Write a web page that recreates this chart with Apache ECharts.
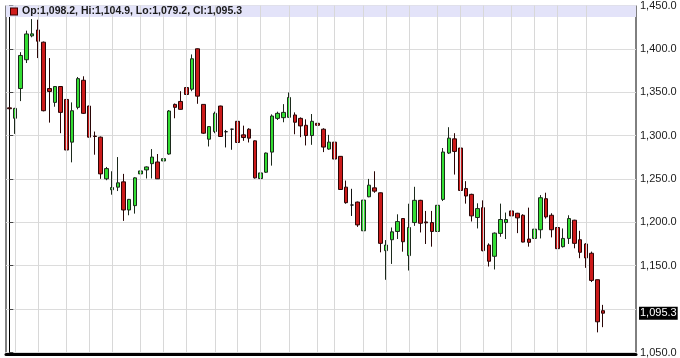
<!DOCTYPE html>
<html>
<head>
<meta charset="utf-8">
<script src="https://cdn.jsdelivr.net/npm/echarts@6/dist/echarts.min.js"></script>
<style>html,body{margin:0;padding:0;background:#fff;}#c{width:680px;height:358px;}</style>
</head>
<body>
<div id="c"></div>
<script>
const open = [1332,1320,1354.3,1387.5,1415,1421.8,1407.7,1354.3,1338.3,1356.6,
1341.7,1292.5,1332.6,1363.8,1334.1,1299.5,1298.2,1250.2,1237.6,1240.6,
1246.7,1214.3,1219.3,1255.9,1260.5,1267.7,1269.6,1270.8,1278.8,1336,
1339.4,1355.4,1353.5,1400.1,1336,1295.9,1304.7,1334.1,1304.5,1307.4,
1316.5,1300.9,1307.4,1294,1250.5,1257.8,1281,1319.9,1320.7,1321.1,
1323.8,1319.9,1311.9,1300.1,1314.2,1307.4,1284.5,1292.5,1276.1,1240.6,
1220,1223.4,1190.3,1229.5,1239.8,1234.1,1167.4,1180,1189.5,1204.4,
1161.7,1199.8,1225.4,1200.5,1199.8,1189.5,1226.5,1279.9,1296.3,1285.7,
1239.1,1232.3,1205.6,1217,1173.9,1160.9,1187.3,1199.8,1213.2,1210.5,
1208.2,1180.8,1181.5,1191.5,1227.3,1208.2,1194.1,1172,1181.5,1202.5,
1180,1175.1,1164.4,1133.9,1098.2];
const close = [1331,1331.4,1392.4,1417.2,1417.3,1408.8,1328.7,1350.9,1356.6,1326.8,
1283.4,1328.7,1365.7,1325.7,1298.2,1299,1255.9,1262,1240.2,1245.6,
1214.3,1226.5,1251.3,1259.3,1263.9,1275.3,1250.2,1273.4,1328.4,1332.6,
1330.3,1347.4,1388.6,1345.5,1302.8,1310.4,1325.7,1299,1304.5,1307.4,
1292.1,1297.8,1297.1,1251.3,1257,1279.9,1322.6,1325.7,1326.8,1344,
1315.4,1311.2,1300.1,1316.5,1311.9,1286.8,1292.5,1273,1237.9,1222.7,
1220,1197.1,1225.7,1242.9,1236,1175.8,1173.9,1189.1,1200.9,1177.7,
1194.1,1225.4,1199,1199.5,1189.5,1219.7,1281.1,1297.1,1281.8,1236.8,
1230.4,1207.5,1215.9,1167.4,1155.2,1187.6,1203.3,1203.3,1207.5,1205.2,
1177.3,1177,1192.2,1228.4,1206.3,1191.5,1169.7,1181.5,1204.4,1175.8,
1165.5,1159,1133.1,1085.4,1095.3];
const low = [1330,1302,1339.8,1383.7,1413.4,1389.4,1328,1315,1333.3,1302.8,
1283,1269.2,1330.3,1325,1298,1278,1250.2,1248.6,1231.9,1236.1,
1201.7,1208.2,1210.1,1224.6,1250.6,1250.6,1250,1261.6,1278,1320,
1330,1340.9,1351.2,1336.7,1302,1287.5,1302.8,1298.5,1286.4,1283.7,
1290.6,1294,1292.1,1250.5,1247.5,1257,1265.4,1318,1315.4,1321,
1301.6,1298.2,1288.7,1289.4,1300,1281,1283.7,1269.2,1237.5,1221.5,
1207.4,1194.8,1189.5,1229,1234.1,1165.5,1133.8,1152.1,1180.8,1166.2,
1144.5,1196,1188.4,1175.1,1172,1189,1224.6,1278.8,1255.1,1231.5,
1221.6,1201,1193,1166.6,1149.1,1145.7,1183.4,1180.8,1194.9,1187.6,
1177,1172,1181,1181.5,1204.4,1182.7,1164.4,1171,1175.1,1170.1,
1158.7,1147.6,1131.2,1073.2,1079.2];
const high = [1333,1332,1396.2,1421,1434.4,1433.6,1408.5,1389.4,1357,1357,
1342,1338.3,1367.6,1368.4,1334.5,1304.7,1299,1263.9,1258.9,1275.3,
1255.9,1227,1252,1260,1264.5,1284.5,1278.8,1276.9,1329.5,1337,
1351.2,1363.8,1393.6,1400.5,1336,1311,1327.6,1334.5,1306.6,1308,
1318,1311.5,1308.5,1294.5,1257.5,1280.5,1324.5,1327.6,1336.3,1349.7,
1326.8,1321,1318.8,1324.9,1324.5,1308.5,1300.9,1293,1276.5,1248.2,
1238.7,1224,1237.9,1250.1,1258.9,1234.5,1179.6,1194.1,1209.3,1205,
1221.5,1241,1226,1213.2,1213.2,1226.5,1285.7,1309.7,1302.8,1287.6,
1247.5,1233,1222,1225.4,1175.8,1188.4,1221.6,1211.3,1226.5,1211,
1209.4,1217,1202.5,1231.5,1234.2,1210.5,1195,1193,1208.2,1203,
1190.3,1176,1166.3,1134,1104.9];
// candle positions (by index) where vertical grid lines fall
const gridLineAt = [1,5,10,14,18,23,27,31,36,40,44,49,54,57,62,66,70,75,79,83,88,92,96,101];
const yTicks = {min:1050, max:1450, step:50};

const fmt = v => Number(v).toLocaleString('en-US',{minimumFractionDigits:1, maximumFractionDigits:1});
const n = open.length;
const last = n - 1;
const candles = open.map((o, i) => [i, o, close[i], low[i], high[i]]);
const header = 'Op:' + fmt(open[last]) + ', Hi:' + fmt(high[last]) + ', Lo:' + fmt(low[last]) + ', Cl:' + fmt(close[last]);

const chart = echarts.init(document.getElementById('c'), null, {renderer:'canvas'});
chart.setOption({
  animation: false,
  backgroundColor: '#fff',
  textStyle: {fontFamily: '"Liberation Sans", Arial, sans-serif'},
  title: {
    left: 11, top: 5, padding: 0,
    text: '{sq|}{t|' + header + '}',
    textStyle: {
      rich: {
        sq: {width: 6, height: 6, backgroundColor: '#d01c1c', borderColor: '#3a0000', borderWidth: 1},
        t: {fontSize: 10.5, color: '#1a1a1a', padding: [0,0,0,5], lineHeight: 13, fontFamily: '"Liberation Sans", Arial, sans-serif'}
      }
    }
  },
  grid: {left: 6, right: 44, top: 5, bottom: 4, show: true, borderColor: '#000', borderWidth: 1, backgroundColor: 'transparent'},
  xAxis: {
    type: 'value', min: -0.578, max: 109.77,
    axisLine: {show: true, onZero: false, lineStyle: {color: '#000', width: 3}},
    offset: 1.5,
    axisTick: {show: false}, axisLabel: {show: false}, splitLine: {show: false}
  },
  yAxis: {
    type: 'value', position: 'right', min: yTicks.min, max: yTicks.max, interval: yTicks.step,
    axisLine: {show: true, lineStyle: {color: '#000', width: 1}},
    axisTick: {show: true, length: 4, lineStyle: {color: '#444'}},
    axisLabel: {margin: 4, fontSize: 11, color: '#1a1a1a', showMinLabel: true, showMaxLabel: true,
      formatter: v => (Math.abs(v - 1100) < 1e-6 ? '' : fmt(v))},
    splitLine: {show: true, lineStyle: {color: '#dcdcdc', width: 1}}
  },
  series: [
    {
      type: 'line', data: [], z: 1, silent: true,
      markArea: {silent: true, itemStyle: {color: '#e3e3f9'}, data: [[{yAxis: 1436.6}, {yAxis: yTicks.max}]]}
    },
    {
      type: 'line', data: [], z: 2, silent: true,
      markLine: {silent: true, symbol: ['none','none'], label: {show: false},
        lineStyle: {color: '#d8d8d8', width: 1, type: 'solid'},
        data: gridLineAt.map(i => ({xAxis: i}))}
    },
    {
      type: 'candlestick', z: 3,
      data: candles,
      encode: {x: 0, y: [1, 2, 3, 4]},
      barWidth: 4,
      itemStyle: {
        color: '#33dd33', color0: '#cc1a1a',
        borderColor: '#1c2a1c', borderColor0: '#2a0606',
        borderColorDoji: '#111', borderWidth: 1
      }
    },
    {
      type: 'line', data: [], z: 4, silent: true,
      markLine: {
        silent: true, symbol: ['none','none'],
        lineStyle: {color: 'rgba(0,0,0,0)', width: 1},
        label: {show: true, position: 'end', distance: 3, formatter: fmt(close[last]),
          backgroundColor: '#000', color: '#fff', fontSize: 11, padding: [1,1,0,1], lineHeight: 12},
        data: [{yAxis: close[last]}]
      }
    }
  ]
});
</script>
</body>
</html>
